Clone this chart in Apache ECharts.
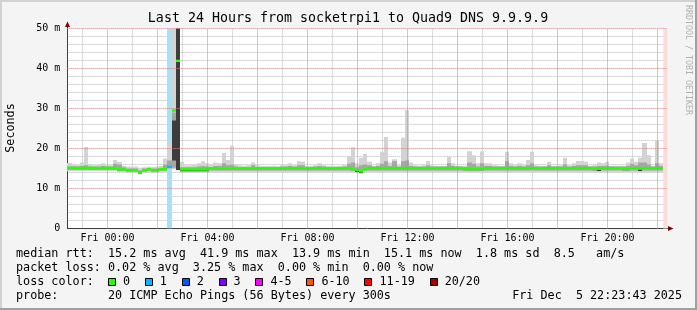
<!DOCTYPE html>
<html><head><meta charset="utf-8">
<script src="https://cdn.jsdelivr.net/npm/echarts@6/dist/echarts.min.js"></script>
<style>html,body{margin:0;padding:0;background:#f4f4f4;}#c{width:697px;height:310px;}</style>
</head><body><div id="c"></div>
<script>
// ---- time window (hours relative to Fri 00:00) ----
const startHours = -(1 + 36 / 60 + 17 / 3600);   // Thu 22:23:43
const endHours = 22 + 23 / 60 + 43 / 3600;       // Fri 22:23:43
const stepMinutes = 10;

// ---- ticks and grid ----
const xTickHours = [0, 4, 8, 12, 16, 20];
const xTickLabels = ['Fri 00:00', 'Fri 04:00', 'Fri 08:00', 'Fri 12:00', 'Fri 16:00', 'Fri 20:00'];
const xMajorGridHours = [0, 2, 4, 6, 8, 10, 12, 14, 16, 18, 20, 22];
const yTickValues = [0, 10, 20, 30, 40, 50];
const yTickLabels = ['0', '10 m', '20 m', '30 m', '40 m', '50 m'];

// ---- median rtt (ms), one value per 10-minute step ----
const median = [
 15.15,15.15,15.15,15.15,15.15,15.15,15.15,15.0,15.15,15.15,15.15,15.15,
 14.75,14.75,14.55,14.55,14.55,14.0,14.6,14.8,14.55,14.55,14.8,14.8,
 15.4,29.5,41.9,14.75,14.75,14.75,14.75,14.75,14.75,14.75,14.95,14.95,
 14.95,14.95,14.95,14.95,14.95,14.95,14.95,14.95,14.95,14.95,14.95,14.95,
 14.95,14.95,14.95,15.0,15.0,15.0,15.0,15.0,15.0,15.0,15.0,15.0,
 15.0,15.0,15.0,15.0,15.0,15.0,15.0,15.0,14.8,14.6,14.3,14.8,
 15.05,15.05,15.05,15.05,15.05,15.05,15.05,15.05,15.05,15.05,15.05,15.05,
 15.05,15.05,15.05,15.05,15.05,15.05,15.05,15.05,15.05,15.05,15.05,14.85,
 14.85,14.85,14.85,14.85,15.05,15.05,15.05,15.05,15.05,15.05,15.05,15.05,
 15.05,15.05,15.05,15.05,15.05,15.05,15.05,15.05,15.05,15.05,15.05,15.05,
 15.05,15.05,15.05,15.05,15.05,15.05,14.9,14.9,15.05,15.05,15.05,15.05,
 15.05,14.85,14.85,15.05,15.05,15.05,15.05,15.05,15.05,15.05,15.1
];
// packet loss (pings lost out of 20) at the steps where it was non-zero
const lossIdx = [24];
const lossCnt = [1];

// ---- smoke: lightest band (min..max of pings) ----
const smokeMax = [
 16.4,16.0,15.8,16.5,20.4,16.1,15.8,16.0,16.3,15.8,15.8,17.1,
 16.7,15.6,15.5,15.5,15.5,15.2,15.3,15.5,15.4,15.5,15.6,17.5,
 21.6,55,55,16.7,15.8,15.8,16.0,16.3,16.8,16.3,16.0,16.5,
 16.3,18.9,17.1,20.7,16.1,15.8,15.7,15.8,16.5,15.8,15.7,15.6,
 15.6,15.7,15.6,15.8,15.8,16.3,15.8,16.8,16.7,15.6,15.7,15.8,
 16.3,15.8,15.7,15.7,15.6,15.7,15.8,18.1,20.3,16.3,17.7,18.6,
 16.7,15.7,16.3,19.2,22.9,16.5,17.3,15.8,22.7,29.6,16.5,15.8,
 15.7,15.8,16.9,15.8,15.7,15.7,15.7,17.9,16.3,15.7,15.7,15.7,
 19.3,18.3,16.3,19.3,16.3,16.3,15.8,15.7,15.7,19.2,16.3,15.8,
 16.3,15.8,17.1,19.2,15.8,15.7,15.7,16.7,15.7,15.7,15.8,17.7,
 15.8,16.3,16.9,16.9,16.7,15.7,15.8,16.5,16.3,16.7,15.7,15.7,
 15.7,15.7,16.5,17.5,16.7,17.7,21.4,18.3,15.7,22.0,16.3
];
const smokeMin = [
 14.3,14.3,14.3,14.3,14.3,14.3,14.3,14.3,14.3,14.3,14.3,14.3,
 14.1,14.0,13.9,13.8,13.8,13.5,13.8,13.9,13.8,13.9,14.0,14.1,
 14.6,14.8,14.5,14.0,14.0,14.0,14.0,14.0,14.0,14.1,14.1,14.1,
 14.1,14.1,14.1,14.1,14.1,14.1,14.1,14.1,14.1,14.1,14.1,14.1,
 14.1,14.1,14.1,14.1,14.1,14.1,14.1,14.1,14.1,14.1,14.1,14.1,
 14.1,14.1,14.1,14.1,14.1,14.1,14.1,14.0,13.9,13.8,13.7,13.9,
 14.1,14.1,14.1,14.1,14.1,14.1,14.1,14.1,14.1,14.1,14.1,14.1,
 14.1,14.1,14.1,14.1,14.1,14.1,14.1,14.1,14.1,14.1,14.1,14.1,
 14.0,14.0,14.0,14.0,14.0,14.0,14.0,14.0,14.0,14.0,14.0,14.0,
 14.1,14.1,14.1,14.1,14.1,14.1,14.1,14.1,14.1,14.1,14.1,14.1,
 14.0,14.0,14.0,14.0,14.0,14.0,14.0,14.0,14.0,14.0,14.0,14.0,
 14.0,14.0,14.0,14.0,14.0,14.0,14.0,14.0,14.0,14.0,14.0
];
// ---- smoke: middle band ----
const midLo = [
 14.6,14.6,14.6,14.6,14.6,14.6,14.6,14.6,14.6,14.6,14.6,14.6,
 14.4,14.4,14.2,14.2,14.2,13.7,14.2,14.4,14.2,14.2,14.4,14.5,
 15.0,15.2,14.6,14.4,14.4,14.4,14.4,14.4,14.4,14.5,14.5,14.5,
 14.5,14.5,14.5,14.5,14.5,14.5,14.5,14.5,14.5,14.5,14.5,14.5,
 14.5,14.5,14.5,14.5,14.5,14.5,14.5,14.5,14.5,14.5,14.5,14.5,
 14.5,14.5,14.5,14.5,14.5,14.5,14.5,14.5,14.4,14.2,14.0,14.4,
 14.5,14.5,14.5,14.5,14.5,14.5,14.5,14.5,14.5,14.5,14.5,14.5,
 14.5,14.5,14.5,14.5,14.5,14.5,14.5,14.5,14.5,14.5,14.5,14.4,
 14.4,14.4,14.4,14.4,14.5,14.5,14.5,14.5,14.5,14.5,14.5,14.5,
 14.5,14.5,14.5,14.5,14.5,14.5,14.5,14.5,14.5,14.5,14.5,14.5,
 14.5,14.5,14.5,14.5,14.5,14.5,14.4,14.4,14.5,14.5,14.5,14.5,
 14.5,14.4,14.4,14.5,14.5,14.5,14.5,14.5,14.5,14.5,14.5
];
const midHi = [
 15.5,15.5,15.5,15.6,15.8,15.5,15.5,15.5,15.6,15.5,15.5,16.2,
 16.0,15.3,15.0,15.0,15.0,14.5,15.0,15.1,15.0,15.0,15.2,16.0,
 17.0,29.0,55,15.3,15.3,15.3,15.3,15.5,15.6,15.5,15.4,15.6,
 15.6,16.3,15.8,16.0,15.5,15.4,15.4,15.4,15.8,15.4,15.4,15.4,
 15.4,15.4,15.4,15.5,15.5,15.6,15.5,15.8,15.8,15.4,15.4,15.5,
 15.6,15.5,15.4,15.4,15.4,15.4,15.5,16.2,16.5,15.3,15.8,16.0,
 15.8,15.5,15.6,16.2,16.8,15.6,16.8,15.5,16.8,17.0,15.6,15.5,
 15.5,15.5,15.8,15.5,15.5,15.5,15.5,16.3,15.6,15.5,15.5,15.4,
 16.5,16.2,15.5,16.3,15.6,15.6,15.5,15.5,15.5,16.8,15.6,15.5,
 15.6,15.5,15.8,16.3,15.5,15.5,15.5,15.8,15.5,15.5,15.5,16.0,
 15.5,15.6,15.8,15.8,15.8,15.5,15.5,15.6,15.6,15.7,15.5,15.5,
 15.5,15.5,15.7,16.2,15.8,16.5,16.5,16.0,15.5,16.3,15.6
];
// ---- smoke: darkest core, only at the steps where it shows ----
const coreIdx = [17, 25, 26, 27, 28, 29, 30, 31, 32, 33, 69, 70, 127, 137];
const coreLo  = [13.8, 17.0, 14.6, 14.3, 14.3, 14.3, 14.3, 14.3, 14.3, 14.3, 14.1, 13.9, 14.4, 14.4];
const coreHi  = [14.2, 27.0, 55, 14.6, 14.6, 14.6, 14.6, 14.6, 14.6, 14.6, 14.5, 14.3, 14.7, 14.7];

// ---- loss colour legend ----
const lossLabels = ['0', '1', '2', '3', '4-5', '6-10', '11-19', '20/20'];
const lossUpper  = [0, 1, 2, 3, 5, 10, 19, 20];
const lossColors = ['#26ff00', '#00b8ff', '#0059ff', '#7e00ff', '#ff00ff', '#ff5500', '#ff0000', '#a10000'];
const lossBgColors = ['#ffffff', '#a4e2f7', '#a6c3ff', '#cfa6ff', '#ffa6ff', '#ffc4a6', '#ffa6a6', '#e0a6a6'];

const titleText = 'Last 24 Hours from socketrpi1 to Quad9 DNS 9.9.9.9';
const legendRows = [
  'median rtt:  15.2 ms avg  41.9 ms max  13.9 ms min  15.1 ms now  1.8 ms sd  8.5   am/s',
  'packet loss: 0.02 % avg  3.25 % max  0.00 % min  0.00 % now',
  'loss color:',
  'probe:       20 ICMP Echo Pings (56 Bytes) every 300s'
];
const stampText = 'Fri Dec  5 22:23:43 2025';

// ===================================================================
const stepH = stepMinutes / 60;
const MONO = '"DejaVu Sans Mono", monospace';
function bucketOf(n) { for (let k = 0; k < lossUpper.length; k++) if (n <= lossUpper[k]) return k; return lossUpper.length - 1; }
function lossAt(i) { const j = lossIdx.indexOf(i); return j < 0 ? 0 : lossCnt[j]; }

function bandRenderer(fill) {
  return function (params, api) {
    const t = api.value(0), lo = api.value(1), hi = api.value(2);
    const p0 = api.coord([t, hi]), p1 = api.coord([t + stepH, lo]);
    const x0 = Math.round(p0[0]), x1 = Math.round(p1[0]);
    return { type: 'rect', shape: { x: x0, y: p0[1], width: x1 - x0, height: p1[1] - p0[1] }, style: { fill: fill } };
  };
}
const lightData = smokeMax.map((hi, i) => [startHours + i * stepH, smokeMin[i], hi]);
const midData = midHi.map((hi, i) => [startHours + i * stepH, midLo[i], hi]);
const coreData = coreIdx.map((i, k) => [startHours + i * stepH, coreLo[k], coreHi[k]]);
const lossData = lossIdx.map((i, k) => [startHours + i * stepH, 0, 50, bucketOf(lossCnt[k])]);
const medData = median.map((m, i) => [startHours + i * stepH, m, bucketOf(lossAt(i))]);
const dataEnd = startHours + median.length * stepH;

const gridRed = '#f07070';
const gridGray = '#b8b8b8';

// plot box (hours land on .5 pixel positions so 1px grid lines are crisp)
const G = { left: 67.383, top: 28.5, width: 600, height: 200 };

const graphics = [];
graphics.push({ type: 'rect', z: -100, shape: { x: 67, y: 28, width: 600, height: 201 }, style: { fill: '#ffffff' }, silent: true });
graphics.push({ type: 'rect', shape: { x: 0, y: 0, width: 697, height: 2 }, style: { fill: '#d2d2d2' }, silent: true });
graphics.push({ type: 'rect', shape: { x: 0, y: 0, width: 2, height: 310 }, style: { fill: '#d2d2d2' }, silent: true });
graphics.push({ type: 'rect', shape: { x: 0, y: 308, width: 697, height: 2 }, style: { fill: '#a0a0a0' }, silent: true });
graphics.push({ type: 'rect', shape: { x: 695, y: 0, width: 2, height: 310 }, style: { fill: '#a0a0a0' }, silent: true });
graphics.push({ type: 'text', x: 348, y: 18.5, silent: true,
  style: { text: titleText, font: '13.3px ' + MONO, fill: '#000', textAlign: 'center', align: 'center', textVerticalAlign: 'middle', verticalAlign: 'middle' } });
graphics.push({ type: 'text', x: 11, y: 128, rotation: Math.PI / 2, silent: true,
  style: { text: 'Seconds', font: '11.75px ' + MONO, fill: '#000', textAlign: 'center', align: 'center', textVerticalAlign: 'middle', verticalAlign: 'middle' } });
graphics.push({ type: 'text', x: 688, y: 5, rotation: -Math.PI / 2, silent: true,
  style: { text: 'RRDTOOL / TOBI OETIKER', font: '8.3px ' + MONO, fill: '#b0b0b0', textAlign: 'left', align: 'left', textVerticalAlign: 'middle', verticalAlign: 'middle' } });
graphics.push({ type: 'line', shape: { x1: 67.5, y1: 29, x2: 67.5, y2: 26 }, style: { stroke: '#404040', lineWidth: 1 }, silent: true });
graphics.push({ type: 'polygon', shape: { points: [[65, 27], [70, 27], [67.5, 21.5]] }, style: { fill: '#800000' }, silent: true });
graphics.push({ type: 'line', shape: { x1: 667, y1: 228.5, x2: 669, y2: 228.5 }, style: { stroke: '#404040', lineWidth: 1 }, silent: true });
graphics.push({ type: 'polygon', shape: { points: [[668, 226], [668, 231], [673.5, 228.5]] }, style: { fill: '#800000' }, silent: true });
const rowY = [254, 268, 282, 296];
const charW = 7.07;
legendRows.forEach((txt, r) => {
  graphics.push({ type: 'text', x: 16, y: rowY[r], silent: true,
    style: { text: txt, font: '11.75px ' + MONO, fill: '#000', textAlign: 'left', align: 'left', textVerticalAlign: 'middle', verticalAlign: 'middle' } });
});
graphics.push({ type: 'text', x: 682, y: rowY[3], silent: true,
  style: { text: stampText, font: '11.75px ' + MONO, fill: '#000', textAlign: 'right', align: 'right', textVerticalAlign: 'middle', verticalAlign: 'middle' } });
let bx = 16 + 13 * charW;
lossLabels.forEach((lab, k) => {
  const rx = Math.round(bx) + 0.5;
  graphics.push({ type: 'rect', shape: { x: rx, y: 278.5, width: 7, height: 7 }, style: { fill: lossColors[k], stroke: '#000', lineWidth: 1 }, silent: true });
  graphics.push({ type: 'text', x: bx + 15, y: rowY[2], silent: true,
    style: { text: lab, font: '11.75px ' + MONO, fill: '#000', textAlign: 'left', align: 'left', textVerticalAlign: 'middle', verticalAlign: 'middle' } });
  bx = bx + 15 + lab.length * charW + 14.8;
});

function xLabel(v) { for (let k = 0; k < xTickHours.length; k++) if (Math.abs(v - xTickHours[k]) < 1e-6) return xTickLabels[k]; return ''; }
function yLabel(v) { const k = yTickValues.indexOf(Math.round(v)); return k < 0 ? '' : yTickLabels[k]; }

const majorLines = xMajorGridHours.map(h => ({ xAxis: h })).concat(yTickValues.slice(1).map(v => ({ yAxis: v })));

const chart = echarts.init(document.getElementById('c'), null, { renderer: 'canvas' });
chart.setOption({
  animation: false,
  backgroundColor: '#f4f4f4',
  grid: { left: G.left, top: G.top, width: G.width, height: G.height, show: false, containLabel: false, outerBoundsMode: 'none' },
  xAxis: {
    type: 'value', min: startHours, max: endHours, splitNumber: 12, minInterval: 2, maxInterval: 2,
    axisLine: { show: true, onZero: false, lineStyle: { color: '#404040', width: 1 } },
    axisTick: { show: false },
    axisLabel: { margin: 5, color: '#000', fontFamily: MONO, fontSize: 10, hideOverlap: false, formatter: xLabel },
    splitLine: { show: false },
    minorTick: { show: false, splitNumber: 2 },
    minorSplitLine: { show: true, lineStyle: { color: gridGray, type: 'dotted', width: 1 } }
  },
  yAxis: {
    type: 'value', min: 0, max: 50, interval: 10,
    axisLine: { show: true, onZero: false, lineStyle: { color: '#404040', width: 1 } },
    axisTick: { show: false },
    axisLabel: { margin: 7, color: '#000', fontFamily: MONO, fontSize: 10, formatter: yLabel },
    splitLine: { show: false },
    minorTick: { show: false, splitNumber: 5 },
    minorSplitLine: { show: true, lineStyle: { color: gridGray, type: 'dotted', width: 1 } }
  },
  series: [
    { type: 'custom', name: 'lossbg', z: 1, data: lossData, clip: true, silent: true,
      encode: { x: 0, y: [1, 2] },
      renderItem: function (params, api) {
        const t = api.value(0);
        const p0 = api.coord([t, api.value(2)]), p1 = api.coord([t + stepH, api.value(1)]);
        const x0 = Math.round(p0[0]), x1 = Math.round(p1[0]);
        return { type: 'rect', shape: { x: x0, y: p0[1], width: x1 - x0, height: p1[1] - p0[1] }, style: { fill: lossBgColors[api.value(3)] } };
      },
      markArea: { silent: true, itemStyle: { color: '#fddcdc' }, data: [[{ xAxis: dataEnd }, { xAxis: endHours }]] },
      markLine: { silent: true, animation: false, symbol: ['none', 'none'], label: { show: false }, emphasis: { disabled: true },
        lineStyle: { color: gridRed, type: 'dotted', width: 1, opacity: 1 }, data: majorLines }
    },
    { type: 'custom', name: 'smoke', z: 2, data: lightData, clip: true, silent: true, encode: { x: 0, y: [1, 2] }, renderItem: bandRenderer('#d3d3d3') },
    { type: 'custom', name: 'smoke-mid', z: 2, data: midData, clip: true, silent: true, encode: { x: 0, y: [1, 2] }, renderItem: bandRenderer('#a6a6a6') },
    { type: 'custom', name: 'smoke-core', z: 2, data: coreData, clip: true, silent: true, encode: { x: 0, y: [1, 2] }, renderItem: bandRenderer('#3c3c3c') },
    { type: 'custom', name: 'median', z: 2, data: medData, clip: true, silent: true, encode: { x: 0, y: 1 },
      renderItem: function (params, api) {
        const t = api.value(0);
        const p0 = api.coord([t, api.value(1)]), p1 = api.coord([t + stepH, api.value(1)]);
        const x0 = Math.round(p0[0]), x1 = Math.round(p1[0]);
        return { type: 'rect', shape: { x: x0, y: p0[1] - 1.2, width: x1 - x0, height: 2.4 }, style: { fill: lossColors[api.value(2)] } };
      }
    }
  ],
  graphic: graphics
});
</script></body></html>
